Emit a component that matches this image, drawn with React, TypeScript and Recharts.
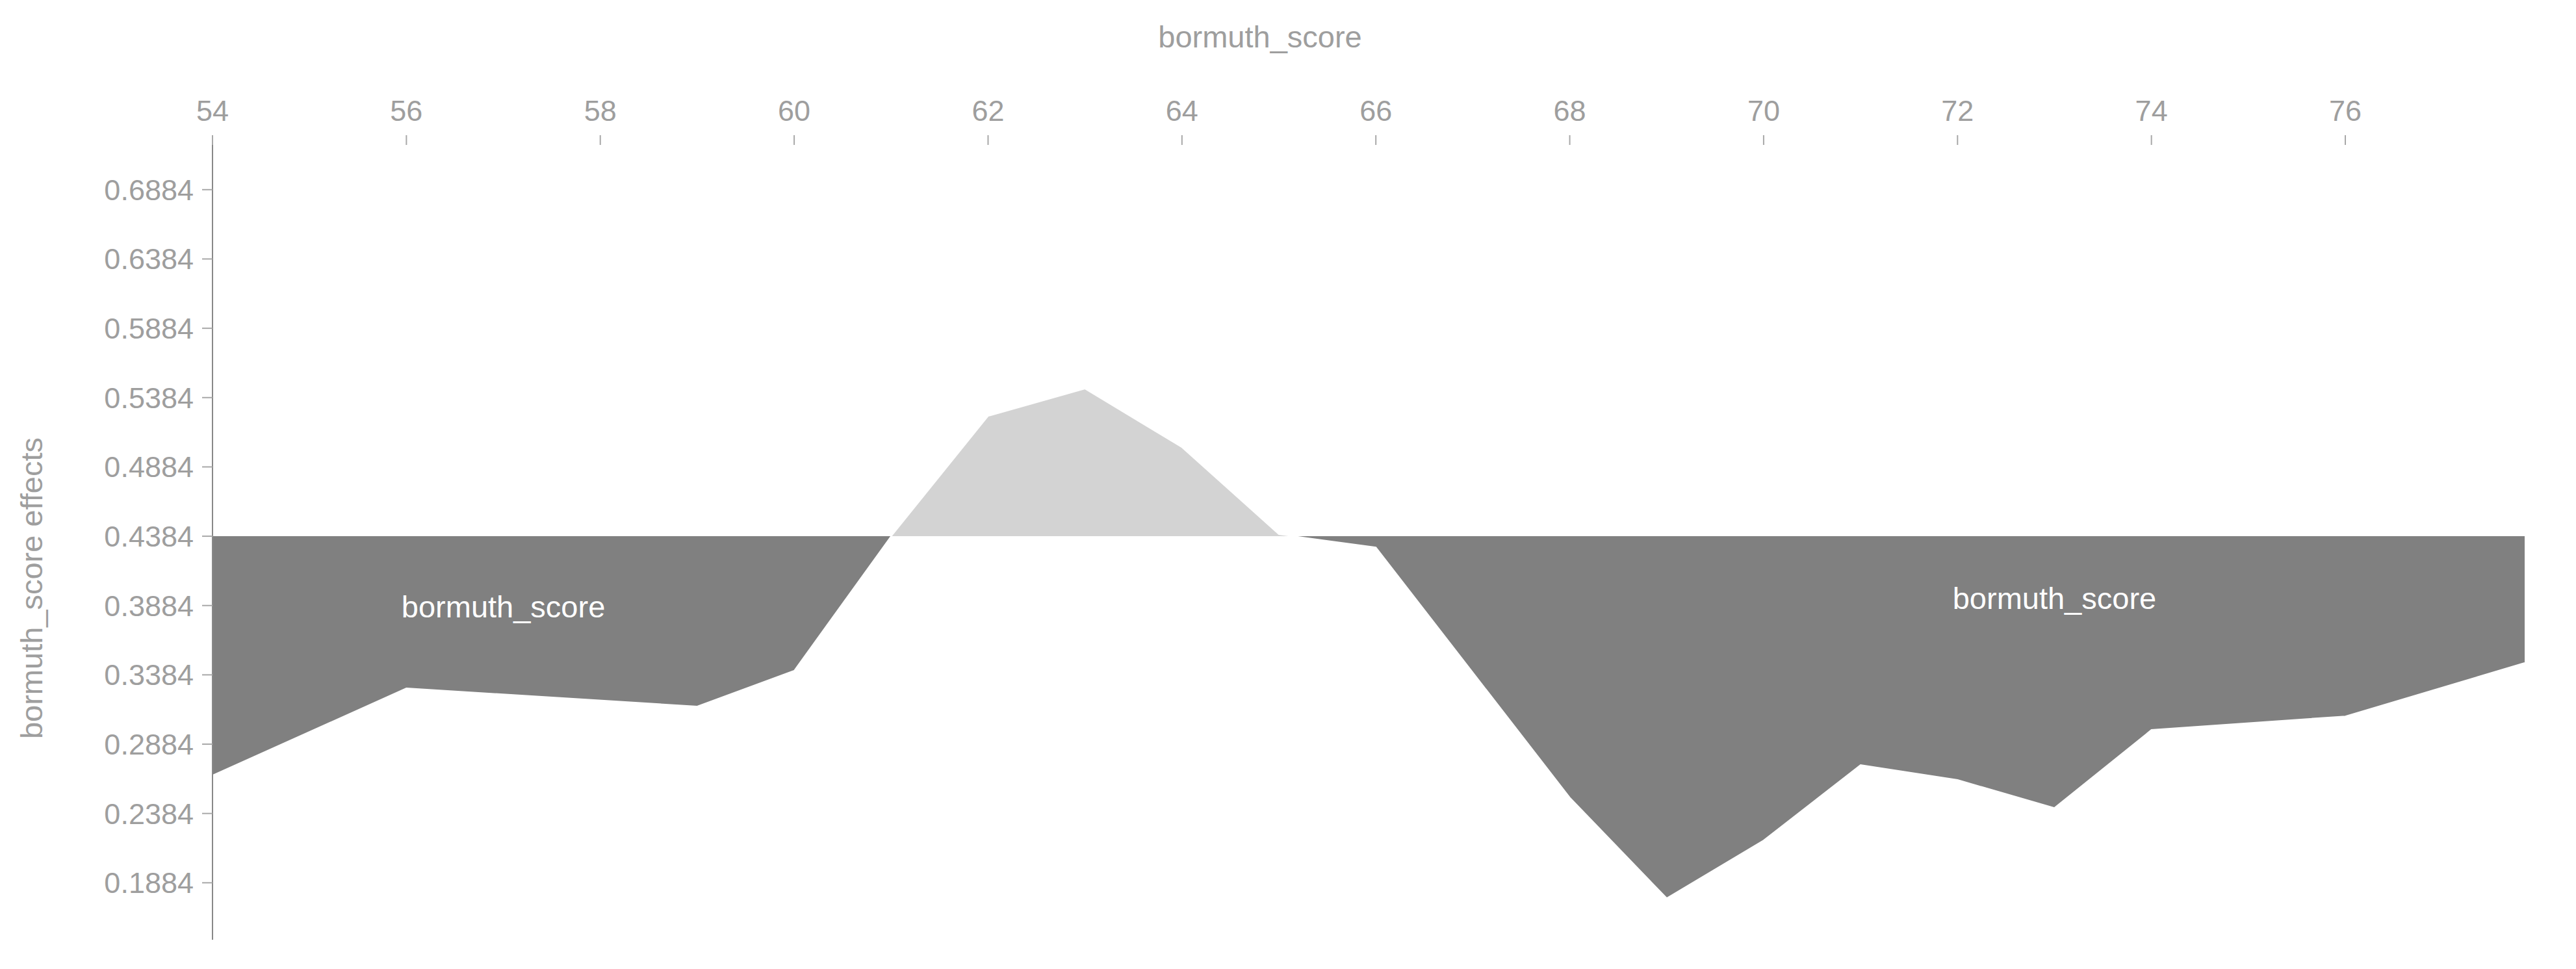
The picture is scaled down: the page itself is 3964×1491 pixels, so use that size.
import React from 'react';
import { AreaChart, Area, XAxis, YAxis, ReferenceDot } from 'recharts';

// bormuth_score values (x) and their effects (y)
const scores = [54, 56, 59, 60, 61, 62, 63, 64, 65, 66, 68, 69, 70, 71, 72, 73, 74, 76, 77.85];
const effects = [0.2659, 0.3287, 0.3156, 0.3414, 0.4384, 0.5251, 0.5448, 0.5026, 0.4398, 0.4304, 0.2499, 0.1773, 0.219, 0.2734, 0.2626, 0.2424, 0.2987, 0.3085, 0.347];
const baseline = 0.4384;

const xTicks = [54, 56, 58, 60, 62, 64, 66, 68, 70, 72, 74, 76];
const yTicks = [0.1884, 0.2384, 0.2884, 0.3384, 0.3884, 0.4384, 0.4884, 0.5384, 0.5884, 0.6384, 0.6884];
const xDomain = [54, 77.85];
const yDomain = [0.1473, 0.7277];

const annotations = [
  { x: 57, y: 0.3878, text: 'bormuth_score' },
  { x: 73, y: 0.3939, text: 'bormuth_score' },
];

const data = scores.map((s, i) => ({ score: s, effect: effects[i] }));

const FONT = '"Liberation Sans", Arial, Helvetica, sans-serif';
const TEXT_GRAY = '#9e9e9e';

const maxV = Math.max(...effects, baseline);
const minV = Math.min(...effects, baseline);
const splitOffset = (maxV - baseline) / (maxV - minV);

const XTick = (props: any) => {
  const { x, payload } = props;
  return (
    <g>
      <text x={x} y={162} textAnchor="middle" dominantBaseline="central" fill={TEXT_GRAY} fontSize={45} fontFamily={FONT}>
        {payload.value}
      </text>
      <line x1={x} x2={x} y1={200} y2={215} stroke="#a8a8a8" strokeWidth={2} />
    </g>
  );
};

export default function App() {
  return (
    <div style={{ width: 3948, height: 1475 }}>
      <AreaChart width={3948} height={1475} data={data} margin={{ top: 0, right: 71, bottom: 37, left: 0 }}>
        <defs>
          <linearGradient id="splitFill" x1="0" y1="0" x2="0" y2="1">
            <stop offset={0} stopColor="#d3d3d3" />
            <stop offset={splitOffset} stopColor="#d3d3d3" />
            <stop offset={splitOffset} stopColor="#808080" />
            <stop offset={1} stopColor="#808080" />
          </linearGradient>
        </defs>
        <XAxis
          type="number"
          dataKey="score"
          orientation="top"
          domain={xDomain}
          ticks={xTicks}
          interval={0}
          height={200}
          axisLine={false}
          tickLine={false}
          tick={<XTick />}
          allowDataOverflow
          label={{
            content: () => (
              <text x={1931} y={48} textAnchor="middle" dominantBaseline="central" fill={TEXT_GRAY} fontSize={47} fontFamily={FONT}>
                bormuth_score
              </text>
            ),
          }}
        />
        <YAxis
          type="number"
          domain={yDomain}
          ticks={yTicks}
          interval={0}
          width={319}
          tickSize={16}
          tickMargin={13}
          allowDataOverflow
          tickFormatter={(v: number) => v.toFixed(4)}
          tick={{ fill: TEXT_GRAY, fontSize: 45, fontFamily: FONT }}
          tickLine={{ stroke: '#a8a8a8', strokeWidth: 2 }}
          axisLine={{ stroke: '#888888', strokeWidth: 2 }}
          label={{
            content: () => (
              <text
                x={40}
                y={897}
                transform="rotate(-90 40 897)"
                textAnchor="middle"
                dominantBaseline="central"
                fill={TEXT_GRAY}
                fontSize={47}
                fontFamily={FONT}
              >
                bormuth_score effects
              </text>
            ),
          }}
        />
        <Area
          type="linear"
          dataKey="effect"
          baseValue={baseline}
          fill="url(#splitFill)"
          fillOpacity={1}
          stroke="#ffffff"
          strokeWidth={2}
          dot={false}
          activeDot={false}
          isAnimationActive={false}
        />
        {annotations.map((a, i) => (
          <ReferenceDot
            key={i}
            x={a.x}
            y={a.y}
            r={0}
            fill="none"
            stroke="none"
            label={{ value: a.text, position: 'center', fill: '#ffffff', fontSize: 47, fontFamily: FONT }}
          />
        ))}
      </AreaChart>
    </div>
  );
}
